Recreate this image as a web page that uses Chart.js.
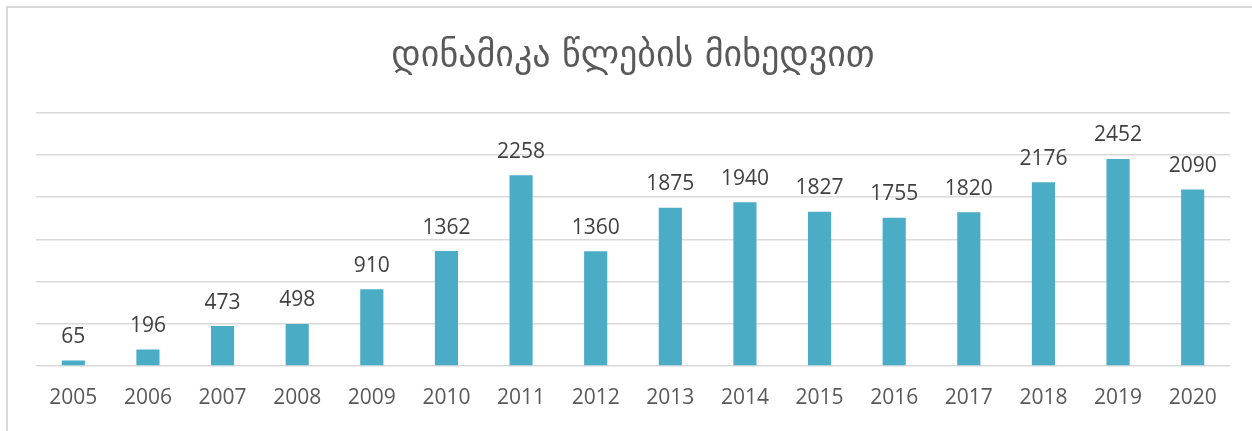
<!DOCTYPE html>
<html>
<head>
<meta charset="utf-8">
<script src="https://cdn.jsdelivr.net/npm/chart.js@4.4.0/dist/chart.umd.min.js"></script>
<style>
html,body{margin:0;padding:0;background:#fff;overflow:hidden;}
#wrap{position:relative;width:1252px;height:431px;}
#frame{position:absolute;left:6px;top:6px;width:1300px;height:500px;border:2px solid #d9d9d9;box-sizing:border-box;}
canvas{position:absolute;left:0;top:0;}
</style>
</head>
<body>
<div id="wrap">
<div id="frame"></div>
<canvas id="c" width="1252" height="431"></canvas>
</div>
<script>
const titleText = "დინამიკა წლების მიხედვით";
const categories = ["2005","2006","2007","2008","2009","2010","2011","2012","2013","2014","2015","2016","2017","2018","2019","2020"];
const values = [65,196,473,498,910,1362,2258,1360,1875,1940,1827,1755,1820,2176,2452,2090];
const yTicks = [0,500,1000,1500,2000,2500,3000];

const numFont = "'Open Sans', sans-serif";

const valueLabels = {
  id: 'valueLabels',
  afterDatasetsDraw(chart) {
    const ctx = chart.ctx;
    const meta = chart.getDatasetMeta(0);
    ctx.save();
    ctx.font = "21px " + numFont;
    ctx.fillStyle = "#404040";
    ctx.textAlign = "center";
    ctx.textBaseline = "alphabetic";
    meta.data.forEach((bar, i) => {
      ctx.fillText(String(values[i]), bar.x, bar.y - 17.5);
    });
    ctx.restore();
  }
};

new Chart(document.getElementById('c'), {
  type: 'bar',
  data: {
    labels: categories,
    datasets: [{
      data: values,
      backgroundColor: '#4BACC6',
      borderColor: '#4BACC6',
      borderWidth: 0,
      barPercentage: 0.31,
      categoryPercentage: 1.0
    }]
  },
  options: {
    responsive: false,
    animation: false,
    layout: { padding: { left: 36, right: 22, top: 0, bottom: 0 } },
    plugins: {
      legend: { display: false },
      tooltip: { enabled: false },
      title: {
        display: true,
        text: titleText,
        color: '#595959',
        font: { family: "'DejaVu Sans', sans-serif", size: 36, weight: 'normal', lineHeight: 1.2 },
        padding: { top: 35, bottom: 34.5 }
      }
    },
    scales: {
      x: {
        grid: { display: false, drawTicks: false },
        border: { display: false },
        ticks: { color: '#595959', font: { family: numFont, size: 21 }, padding: 19, maxRotation: 0, autoSkip: false },
        afterFit(s) { s.height = 65; }
      },
      y: {
        min: yTicks[0],
        max: yTicks[yTicks.length - 1],
        afterBuildTicks(s) { s.ticks = yTicks.map(v => ({ value: v })); },
        grid: { color: '#d9d9d9', lineWidth: 1.5, drawTicks: false },
        border: { display: false },
        ticks: { display: false },
        afterFit(s) { s.width = 0; }
      }
    }
  },
  plugins: [valueLabels]
});
</script>
</body>
</html>
